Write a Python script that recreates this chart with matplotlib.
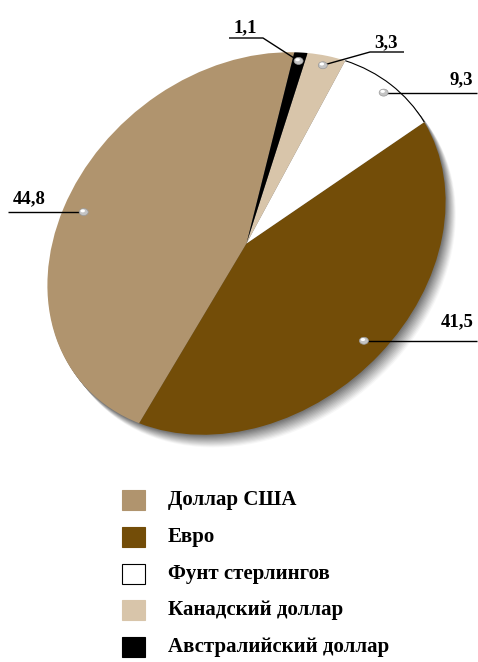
import numpy as np
import matplotlib.pyplot as plt
from matplotlib import patches
from matplotlib.transforms import Affine2D

plt.rcParams['font.family'] = ['Liberation Serif', 'DejaVu Serif']

# shares of currencies, %
names = ['Доллар США', 'Евро', 'Фунт стерлингов', 'Канадский доллар', 'Австралийский доллар']
shares = [44.8, 41.5, 9.3, 3.3, 1.1]
colors = ['#b0946e', '#734d08', '#ffffff', '#d8c5aa', '#000000']

# label layout (pixels, y down)
lbl_xy = [(29, 203), (457, 326), (461, 84), (386, 47), (245, 32)]
dot_r = [0.89, 0.88, 0.95, 0.95, 0.956]
leader_pts = [[(8, None)], [(477, None)], [(477, None)],
              [(370, 52), (404, 52)], [(263, 38), (229, 38)]]

fig = plt.figure(figsize=(4.78, 6.62), dpi=100)
ax = fig.add_axes([0, 0, 1, 1])

# unit circle -> tilted ellipse in pixel space
cx, cy = 246.5, 243.5
M = Affine2D.from_values(199.1, -41.78, 0, -186.66, cx, cy)
tr = M + ax.transData

# soft shadow under the disc
n = 12
for i in range(n, 0, -1):
    g = 0.42 + 0.55 * (i / n)
    sh = patches.Circle((0, 0), 1, facecolor=(g, g, g), edgecolor='none',
                        transform=M + Affine2D().translate(i * 0.85, i * 1.05) + ax.transData,
                        zorder=1)
    ax.add_patch(sh)

wedges, _ = ax.pie(shares, colors=colors, startangle=76.1, counterclock=True,
                   radius=1, center=(0, 0), wedgeprops=dict(linewidth=0))
for w in wedges:
    w.set_transform(tr)
    w.set_zorder(2)

# thin outline on the white slice arc
gbp = wedges[2]
ax.add_patch(patches.Arc((0, 0), 2, 2, theta1=gbp.theta1, theta2=gbp.theta2,
                         color='black', lw=0.8, transform=tr, zorder=3))

for w, v, r, (tx, ty), pts in zip(wedges, shares, dot_r, lbl_xy, leader_pts):
    a = np.deg2rad((w.theta1 + w.theta2) / 2)
    px, py = M.transform((r * np.cos(a), r * np.sin(a)))
    xs, ys = [px], [py]
    for x, y in pts:
        xs.append(x)
        ys.append(py if y is None else y)
    ax.plot(xs, ys, color='black', lw=1.0, zorder=4, solid_capstyle='butt')
    ax.add_patch(patches.Ellipse((px, py), 9, 7, facecolor='#c4c4c4',
                                 edgecolor='#9a9a9a', lw=0.5, zorder=5))
    ax.add_patch(patches.Ellipse((px - 1, py - 1.2), 4.5, 3, facecolor='white',
                                 edgecolor='none', zorder=6))
    ax.text(tx, ty, f'{v:.1f}'.replace('.', ','), ha='center', va='baseline',
            fontsize=13.5, fontweight='bold', zorder=6)

# legend
for i, (name, col) in enumerate(zip(names, colors)):
    yc = 500 + 36.8 * i
    ax.add_patch(patches.Rectangle((122, yc - 10), 23, 20, facecolor=col,
                                   edgecolor='black' if col == '#ffffff' else col,
                                   lw=0.8))
    ax.text(168, yc, name, ha='left', va='center', fontsize=15, fontweight='bold')

ax.set_xlim(0, 478)
ax.set_ylim(662, 0)
ax.set_aspect('auto')
ax.axis('off')

fig.savefig('out.png', dpi=100, facecolor='white')
